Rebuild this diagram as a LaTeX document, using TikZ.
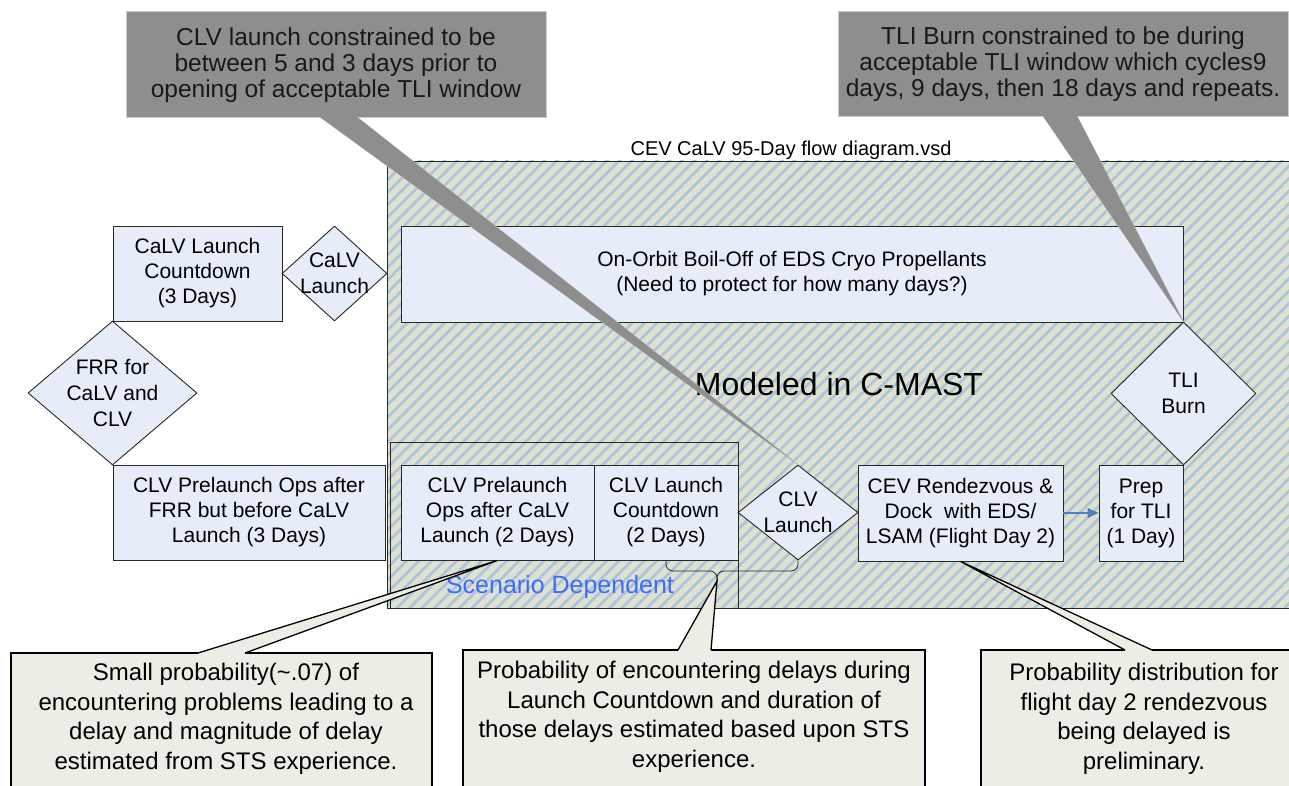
\documentclass[tikz,border=0pt]{standalone}
\usepackage{fontspec}
\setmainfont{Liberation Sans}
\usetikzlibrary{shapes.geometric,arrows.meta,calc}
\definecolor{boxblue}{RGB}{230,236,248}
\definecolor{hatchbg}{RGB}{221,225,206}
\definecolor{stripec}{RGB}{172,196,222}
\definecolor{callfill}{RGB}{237,237,229}
\definecolor{topgray}{RGB}{142,142,142}
\definecolor{topedge}{RGB}{205,205,205}
\definecolor{scenblue}{RGB}{62,108,250}
\definecolor{arrowblue}{RGB}{79,129,189}
\definecolor{darkline}{RGB}{40,40,40}
\begin{document}
\begin{tikzpicture}[x=1pt,y=-1pt,
  box/.style={draw=darkline,fill=boxblue,line width=0.9pt,inner sep=0pt,align=center,
    font=\fontsize{21}{25}\selectfont},
  diam/.style={diamond,draw=darkline,fill=boxblue,line width=0.9pt,inner sep=0pt},
  dtext/.style={align=center,font=\fontsize{21}{26}\selectfont},
  topcall/.style={draw=topedge,fill=topgray,line width=1pt,inner sep=0pt,align=center,
    text=black!90,font=\fontsize{24.5}{26}\selectfont},
  topptr/.style={fill=topgray,draw=topedge,line width=0.8pt},
  botcall/.style={draw=black,fill=callfill,line width=1.3pt,inner sep=0pt},
  bottext/.style={align=center,font=\fontsize{24}{29.5}\selectfont},
  stripe/.style={draw=stripec,line width=2.6pt}
]
\useasboundingbox (0,0) rectangle (1289,786);
\clip (0,0) rectangle (1289,786);

% hatched region
\begin{scope}
  \clip (387,161) rectangle (1310,608);
  \fill[hatchbg] (387,161) rectangle (1310,608);
  \foreach \k in {0,...,125} { \draw[stripe] ({-90+12.5*\k},620) -- ++(470,-470); }
\end{scope}
\draw[darkline,line width=0.9pt] (387,161) rectangle (1310,608);
\node[font=\fontsize{20}{24}\selectfont] (title) at (791,150) {CEV CaLV 95-Day flow diagram.vsd};
\node[font=\fontsize{32}{38}\selectfont,anchor=base] (modeled) at (839,395) {Modeled in C-MAST};

% scenario dependent box
\draw[darkline,line width=0.9pt] (390,442) rectangle (738,608);
\node[font=\fontsize{25}{30}\selectfont,text=scenblue] (scen) at (560,587) {Scenario Dependent};

% process boxes
\node[box,minimum width=169pt,minimum height=95pt] (calvcd) at (197.5,273.5) {CaLV Launch\\Countdown\\(3 Days)};
\node[diam,minimum width=105pt,minimum height=95pt] (calvl) at (334.5,273.5) {};
\node[dtext] (calvlt) at (calvl) {CaLV\\Launch};
\node[diam,minimum width=169pt,minimum height=144pt] (frr) at (112.5,393) {};
\node[dtext] (frrt) at (frr) {FRR for\\CaLV and\\CLV};
\node[box,minimum width=272pt,minimum height=95pt] (clvpre1) at (249,512.5) {CLV Prelaunch Ops after\\FRR but before CaLV\\Launch (3 Days)};
\node[box,minimum width=782pt,minimum height=96pt] (boil) at (792,274) {On-Orbit Boil-Off of EDS Cryo Propellants\\(Need to protect for how many days?)};
\node[box,minimum width=193pt,minimum height=95pt] (clvpre2) at (497.5,512.5) {CLV Prelaunch\\Ops after CaLV\\Launch (2 Days)};
\node[box,minimum width=144pt,minimum height=95pt] (clvcd) at (666,512.5) {CLV Launch\\Countdown\\(2 Days)};
\node[diam,minimum width=120pt,minimum height=95pt] (clvl) at (798,512.5) {};
\node[dtext] (clvlt) at (clvl) {CLV\\Launch};
\node[box,minimum width=205pt,minimum height=96pt] (rdv) at (960.5,513) {CEV Rendezvous \&\\Dock\ \ with EDS/\\LSAM (Flight Day 2)};
\node[box,minimum width=84pt,minimum height=96pt] (prep) at (1141,513) {Prep\\for TLI\\(1 Day)};
\node[diam,minimum width=145pt,minimum height=143pt] (tli) at (1183.5,393.5) {};
\node[dtext] (tlit) at (tli) {TLI\\Burn};

\draw[arrowblue,line width=1.3pt,-{Triangle[length=11pt,width=10pt]}] (rdv.east) -- (prep.west);

% brace under countdown / CLV launch
\coordinate (bmid) at (717,571);
\coordinate (btip) at (717,581);
\draw[darkline,line width=0.8pt,rounded corners=7pt] (clvcd.south) |- (bmid) -- (btip);
\draw[darkline,line width=0.8pt,rounded corners=7pt] (clvl.south) |- (bmid) -- (btip);

% bottom callouts
\node[botcall,minimum width=421pt,minimum height=145pt] (cbl) at (221.5,725.5) {};
\node[bottext] (cblt) at (226,719) {Small probability(\textasciitilde.07) of\\encountering problems leading to a\\delay and magnitude of delay\\estimated from STS experience.};
\node[botcall,minimum width=462pt,minimum height=148pt] (cbm) at (694,724) {};
\node[bottext] (cbmt) at (694,717) {Probability of encountering delays during\\Launch Countdown and duration of\\those delays estimated based upon STS\\experience.};
\node[botcall,minimum width=330pt,minimum height=148pt] (cbr) at (1146,724) {};
\node[bottext] (cbrt) at (1144,719) {Probability distribution for\\flight day 2 rendezvous\\being delayed is\\preliminary.};

\coordinate (blA) at (198,653); \coordinate (blB) at (245,653);
\fill[callfill] (blA) -- (clvpre2.south) -- (blB) -- ($(blB)+(0,3)$) -- ($(blA)+(0,3)$) -- cycle;
\draw[black,line width=1.3pt] (blA) -- (clvpre2.south) -- (blB);
\coordinate (bmA) at (678,650); \coordinate (bmB) at (711,650);
\fill[callfill] (bmA) -- (btip) -- (bmB) -- ($(bmB)+(0,3)$) -- ($(bmA)+(0,3)$) -- cycle;
\draw[black,line width=1.3pt] (bmA) -- (btip) -- (bmB);
\coordinate (brA) at (1125,650); \coordinate (brB) at (1152,650);
\fill[callfill] (brA) -- (rdv.south) -- (brB) -- ($(brB)+(0,3)$) -- ($(brA)+(0,3)$) -- cycle;
\draw[black,line width=1.3pt] (brA) -- (rdv.south) -- (brB);

% top callouts
\node[topcall,minimum width=420pt,minimum height=106pt] (ctl) at (336,65) {CLV launch constrained to be\\between 5 and 3 days prior to\\opening of acceptable TLI window};
\node[topcall,minimum width=450pt,minimum height=105pt] (ctr) at (1063,64.5) {TLI Burn constrained to be during\\acceptable TLI window which cycles9\\days, 9 days, then 18 days and repeats.};
\coordinate (tlA) at (320,117); \coordinate (tlB) at (357,117);
\path[topptr] (tlA) -- (clvl.north) -- (tlB);
\fill[topgray] (tlA) -- (clvl.north) -- (tlB) -- ($(tlB)+(0,-3)$) -- ($(tlA)+(0,-3)$) -- cycle;
\coordinate (trA) at (1043,116); \coordinate (trB) at (1077,116);
\path[topptr] (trA) -- (tli.north) -- (trB);
\fill[topgray] (trA) -- (tli.north) -- (trB) -- ($(trB)+(0,-3)$) -- ($(trA)+(0,-3)$) -- cycle;
\end{tikzpicture}
\end{document}
